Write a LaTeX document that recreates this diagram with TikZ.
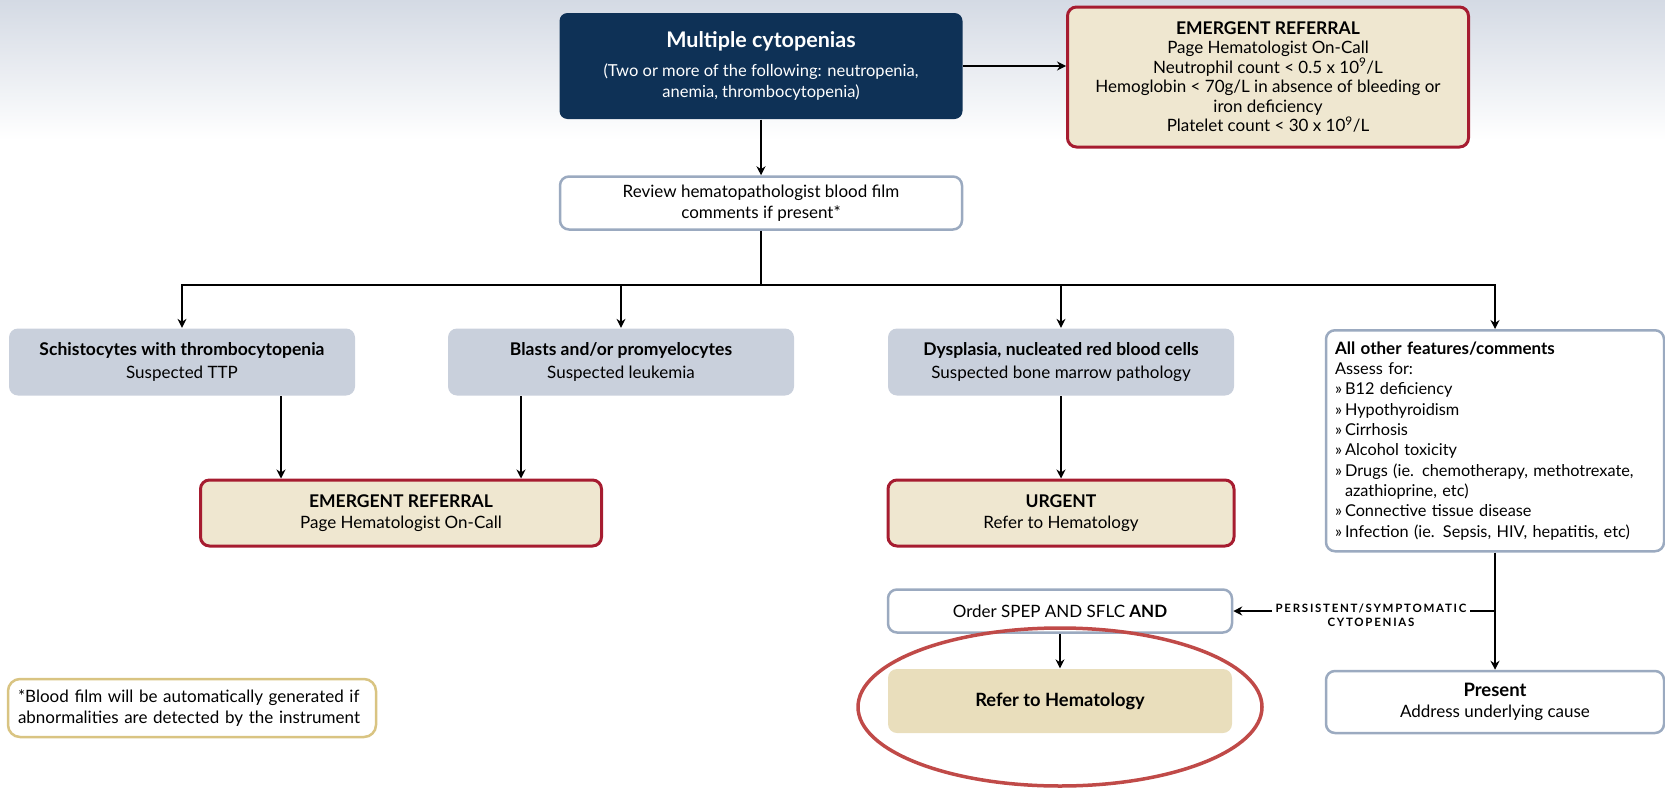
\documentclass[tikz,border=0pt]{standalone}
\usepackage{fontspec}
\setmainfont{Lato}
\newfontfamily\tagfont[LetterSpace=15]{Lato}
\usetikzlibrary{positioning,calc,arrows.meta}

\definecolor{navybox}{RGB}{14,49,86}
\definecolor{refred}{RGB}{166,28,48}
\definecolor{tanfill}{RGB}{239,231,208}
\definecolor{referfill}{RGB}{233,222,188}
\definecolor{greyfill}{RGB}{201,208,220}
\definecolor{edgeblue}{RGB}{155,170,192}
\definecolor{goldedge}{RGB}{217,196,130}
\definecolor{ringred}{RGB}{192,74,72}
\definecolor{bgtop}{RGB}{212,218,228}

\newcommand{\guil}{\makebox[10pt][l]{»}}
\newcommand{\ttl}{\bfseries\fontsize{17.5}{21}\selectfont}

\tikzset{
  navy/.style={fill=navybox,text=white,rounded corners=8pt,align=center},
  redref/.style={draw=refred,line width=3pt,fill=tanfill,rounded corners=9pt,align=center},
  greybox/.style={fill=greyfill,rounded corners=9pt,align=center,minimum width=346pt,minimum height=67pt},
  whitebox/.style={draw=edgeblue,line width=2.5pt,fill=white,rounded corners=9pt,align=center},
  tag/.style={fill=white,align=center,inner sep=3pt,font=\tagfont\bfseries\fontsize{11.5}{14}\selectfont},
}

\begin{document}
\begin{tikzpicture}[x=1pt,y=-1pt,->,>={Stealth[length=9pt,width=9pt]},line width=1.3pt,font=\fontsize{17}{20.5}\selectfont]
                \useasboundingbox (0,0) rectangle (1665,787);
                \shade[top color=bgtop,bottom color=white] (0,0) rectangle (1665,140);
                % top row
                \node[navy,minimum width=403pt,minimum height=106pt,font=\fontsize{16.5}{21.5}\selectfont] (cyto) at (761,66)
                    {{\bfseries\fontsize{21.5}{24}\selectfont Multiple cytopenias}\\[7pt]
                     (Two or more of the following: neutropenia,\\anemia, thrombocytopenia)};
                \node[redref,minimum width=401pt,minimum height=140pt,font=\fontsize{17}{19.5}\selectfont] (emtop) at (1268,77)
                    {{\ttl EMERGENT REFERRAL}\\Page Hematologist On-Call\\
                     Neutrophil count < 0.5 x 10\textsuperscript{9}/L\\
                     Hemoglobin < 70g/L in absence of bleeding or\\iron deficiency\\
                     Platelet count < 30 x 10\textsuperscript{9}/L};
                \node[whitebox,minimum width=402pt,minimum height=53pt] (review) at (761,203)
                    {Review hematopathologist blood film\\comments if present*};
                \coordinate (bus) at (761,285);
                % film findings
                \node[greybox] (schis) at (182,362) {{\ttl Schistocytes with thrombocytopenia}\\[2pt]Suspected TTP};
                \node[greybox] (blasts) at (621,362) {{\ttl Blasts and/or promyelocytes}\\[2pt]Suspected leukemia};
                \node[greybox] (dysp) at (1061,362) {{\ttl Dysplasia, nucleated red blood cells}\\[2pt]Suspected bone marrow pathology};
                \node[whitebox,anchor=north,minimum width=338pt,minimum height=221pt,text width=320pt,align=left,inner xsep=9pt,
                      font=\fontsize{16.3}{20.3}\selectfont] (allother) at (1495,329)
                    {{\bfseries\fontsize{17}{20.3}\selectfont All other features/comments}\\
                     Assess for:\\
                     \guil B12 deficiency\\
                     \guil Hypothyroidism\\
                     \guil Cirrhosis\\
                     \guil Alcohol toxicity\\
                     \guil Drugs (ie. chemotherapy, methotrexate,\\
                     \hspace*{10pt}azathioprine, etc)\\
                     \guil Connective tissue disease\\
                     \guil Infection (ie. Sepsis, HIV, hepatitis, etc)};
                % outcomes
                \node[redref,minimum width=401pt,minimum height=66pt] (em2) at (401,513)
                    {{\ttl EMERGENT REFERRAL}\\Page Hematologist On-Call};
                \node[redref,minimum width=346pt,minimum height=66pt] (urgent) at (1061,513)
                    {{\ttl URGENT}\\Refer to Hematology};
                \node[whitebox,minimum width=344pt,minimum height=43pt] (order) at (1060,611)
                    {Order SPEP AND SFLC {\bfseries AND}};
                \node[fill=referfill,rounded corners=9pt,minimum width=344pt,minimum height=64pt] (refer) at (1060,701)
                    {\bfseries\fontsize{18.3}{22}\selectfont Refer to Hematology};
                \node[whitebox,minimum width=338pt,minimum height=62pt] (present) at (1495,702)
                    {{\bfseries\fontsize{18.5}{22}\selectfont Present}\\Address underlying cause};
                \node[draw=goldedge,line width=2.5pt,fill=white,rounded corners=12pt,align=left,text width=348pt,inner xsep=10pt,
                      minimum height=58pt] (note) at (192,708)
                    {*Blood film will be automatically generated if\\abnormalities are detected by the instrument};
                \node[tag] (persist) at (1371,615) {PERSISTENT/SYMPTOMATIC\\CYTOPENIAS};
                % connectors
                \draw (cyto.east) -- (cyto.east -| emtop.west);
                \draw (cyto) -- (review);
                \draw[-] (review) -- (bus);
                \draw (bus) -| (schis);
                \draw (bus) -| (blasts);
                \draw (bus) -| (dysp);
                \draw (bus) -| (allother);
                \coordinate (emL) at ([xshift=-120pt]em2.north);
                \coordinate (emR) at ([xshift=120pt]em2.north);
                \draw (emL |- schis.south) -- (emL);
                \draw (emR |- blasts.south) -- (emR);
                \draw (dysp) -- (urgent);
                \draw (order) -- (refer);
                \draw (allother) -- (present);
                \coordinate (split) at (allother.south |- order.east);
                \draw[-] (split) -- (persist.east |- split);
                \draw (persist.west |- split) -- (order.east);
                \draw[-,ringred,line width=3.5pt] ([yshift=-6pt]refer.center) ellipse [x radius=202pt,y radius=79pt];
            \end{tikzpicture}
\end{document}
